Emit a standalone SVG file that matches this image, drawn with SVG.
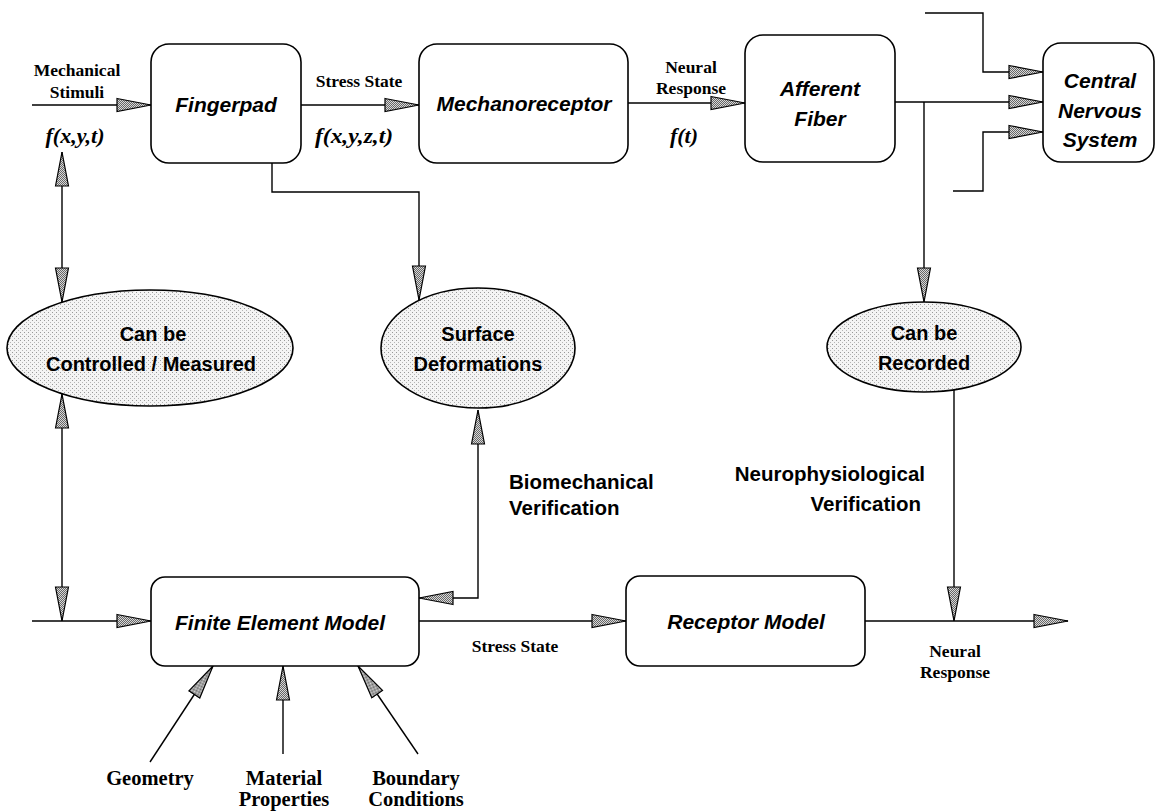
<svg xmlns="http://www.w3.org/2000/svg" width="1156" height="811" viewBox="0 0 1156 811">
<style>
.box{fill:#fff;stroke:#000;stroke-width:1.6}
.ell{fill:url(#stip);stroke:#000;stroke-width:1.6}
.ln{fill:none;stroke:#000;stroke-width:1.4}
.arr{marker-end:url(#ah)}
.bi{marker-start:url(#ah);marker-end:url(#ah)}
.bt{font-family:"Liberation Sans",Arial,sans-serif;font-weight:bold;font-style:italic;font-size:21px;text-anchor:middle}
.et{font-family:"Liberation Sans",Arial,sans-serif;font-weight:bold;font-size:20px;text-anchor:middle}
.vt{font-family:"Liberation Sans",Arial,sans-serif;font-weight:bold;font-size:20.5px}
.sl{font-family:"Liberation Serif","Times New Roman",serif;font-weight:bold;font-size:17.5px;text-anchor:middle}
.bl{font-family:"Liberation Serif","Times New Roman",serif;font-weight:bold;font-size:20.5px;text-anchor:middle}
.fx{font-family:"Liberation Serif","Times New Roman",serif;font-weight:bold;font-style:italic;font-size:20px;text-anchor:middle}
</style>
<defs>
<pattern id="stip" width="4" height="4" patternUnits="userSpaceOnUse">
<rect width="4" height="4" fill="#f4f4f4"/>
<rect x="0" y="0" width="1" height="1" fill="#999"/>
<rect x="2" y="2" width="1" height="1" fill="#b5b5b5"/>
</pattern>
<pattern id="hatch" width="2" height="2" patternUnits="userSpaceOnUse">
<rect width="2" height="2" fill="#d8d8d8"/>
<rect x="0" y="0" width="1" height="1" fill="#666"/>
<rect x="1" y="1" width="1" height="1" fill="#666"/>
</pattern>
<marker id="ah" markerUnits="userSpaceOnUse" markerWidth="36" markerHeight="16" viewBox="0 0 36 16" refX="35" refY="8" orient="auto-start-reverse">
<path d="M1,1.5 L35,8 L1,14.5 Z" fill="url(#hatch)" stroke="#000" stroke-width="1.2"/>
</marker>
</defs>

<g id="connectors">
<path class="ln arr" d="M32,105 H151"/>
<path class="ln arr" d="M301,105 H419"/>
<path class="ln arr" d="M628,103 H745"/>
<path class="ln arr" d="M895,102 H1043"/>
<path class="ln arr" d="M925,13 H983 V72 H1043"/>
<path class="ln arr" d="M953,191 H983 V132 H1043"/>
<path class="ln arr" d="M924,102 V302"/>
<path class="ln arr" d="M272,163 V192 H419 V300"/>
<path class="ln bi" d="M62,152 V302"/>
<path class="ln bi" d="M62,394 V621"/>
<path class="ln arr" d="M32,621 H151"/>
<path class="ln bi" d="M478,410 V598 H419"/>
<path class="ln arr" d="M419,621 H626"/>
<path class="ln arr" d="M865,621 H1068"/>
<path class="ln arr" d="M954,390 V621"/>
<path class="ln arr" d="M150,762 L213,666"/>
<path class="ln arr" d="M283,754 V666"/>
<path class="ln arr" d="M418,754 L358,666"/>
</g>

<g id="fingerpad">
<rect class="box" x="151" y="44" width="150" height="119" rx="18"/>
<text class="bt" x="226" y="112">Fingerpad</text>
</g>
<g id="mechanoreceptor">
<rect class="box" x="419" y="44" width="209" height="119" rx="18"/>
<text class="bt" x="524" y="111">Mechanoreceptor</text>
</g>
<g id="afferent-fiber">
<rect class="box" x="745" y="35" width="150" height="127" rx="18"/>
<text class="bt" x="820" y="96">Afferent</text>
<text class="bt" x="820" y="126">Fiber</text>
</g>
<g id="cns">
<rect class="box" x="1043" y="43" width="111" height="119" rx="18"/>
<text class="bt" x="1100" y="88">Central</text>
<text class="bt" x="1100" y="118">Nervous</text>
<text class="bt" x="1100" y="147">System</text>
</g>
<g id="controlled">
<ellipse class="ell" cx="150" cy="348" rx="143" ry="58"/>
<text class="et" x="153" y="341">Can be</text>
<text class="et" x="151" y="371">Controlled / Measured</text>
</g>
<g id="surface">
<ellipse class="ell" cx="478" cy="348" rx="97" ry="60"/>
<text class="et" x="478" y="341">Surface</text>
<text class="et" x="478" y="371">Deformations</text>
</g>
<g id="recorded">
<ellipse class="ell" cx="924" cy="347" rx="97" ry="45"/>
<text class="et" x="924" y="340">Can be</text>
<text class="et" x="924" y="370">Recorded</text>
</g>
<g id="fem">
<rect class="box" x="151" y="577" width="268" height="89" rx="14"/>
<text class="bt" x="280" y="630">Finite Element Model</text>
</g>
<g id="receptor-model">
<rect class="box" x="626" y="576" width="239" height="90" rx="14"/>
<text class="bt" x="746" y="629">Receptor Model</text>
</g>

<g id="labels">
<text class="sl" x="77" y="76">Mechanical</text>
<text class="sl" x="77" y="98">Stimuli</text>
<text class="fx" x="75" y="143" textLength="59" lengthAdjust="spacingAndGlyphs">f(x,y,t)</text>
<text class="sl" x="359" y="87">Stress State</text>
<text class="fx" x="354" y="143" textLength="78" lengthAdjust="spacingAndGlyphs">f(x,y,z,t)</text>
<text class="sl" x="691" y="73">Neural</text>
<text class="sl" x="691" y="94">Response</text>
<text class="fx" x="684" y="143" textLength="28" lengthAdjust="spacingAndGlyphs">f(t)</text>
<text class="vt" x="509" y="489">Biomechanical</text>
<text class="vt" x="509" y="515">Verification</text>
<text class="vt" x="925" y="481" text-anchor="end">Neurophysiological</text>
<text class="vt" x="921" y="511" text-anchor="end">Verification</text>
<text class="sl" x="515" y="652">Stress State</text>
<text class="sl" x="955" y="657">Neural</text>
<text class="sl" x="955" y="678">Response</text>
<text class="bl" x="150" y="785">Geometry</text>
<text class="bl" x="284" y="785">Material</text>
<text class="bl" x="284" y="806">Properties</text>
<text class="bl" x="416" y="785">Boundary</text>
<text class="bl" x="416" y="806">Conditions</text>
</g>
</svg>
